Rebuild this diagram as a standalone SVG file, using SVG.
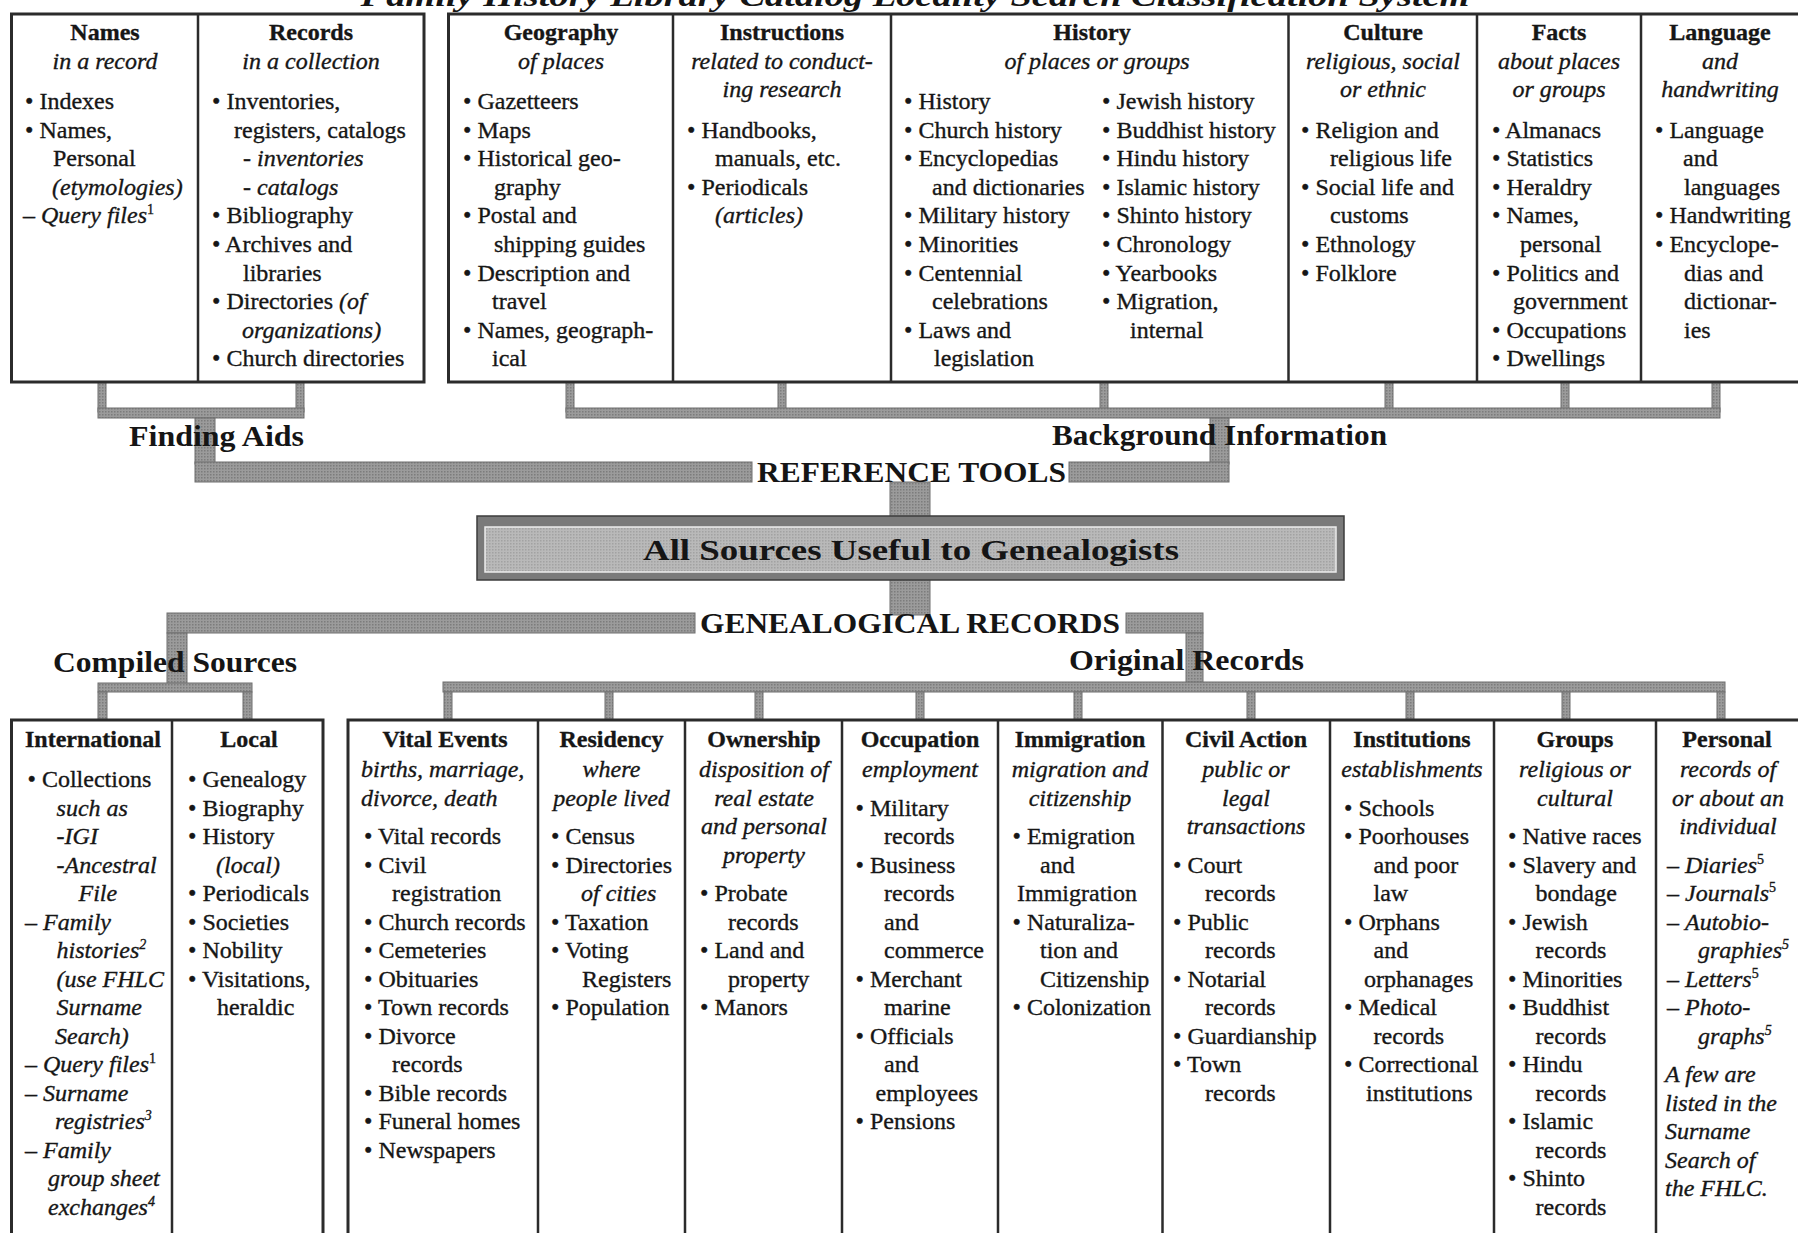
<svg xmlns="http://www.w3.org/2000/svg" width="1798" height="1233" viewBox="0 0 1798 1233">
<style>
.t{font-family:"Liberation Serif","Times New Roman",serif;font-size:24px;fill:#161616;stroke:#161616;stroke-width:0.35}
.h{font-weight:bold;text-anchor:middle}
.i{font-style:italic}
.c{text-anchor:middle}
.L{font-family:"Liberation Serif","Times New Roman",serif;font-weight:bold;font-size:30px;fill:#151515}
.sup{font-size:14px}
.frame{fill:#fff;stroke:#2b2b2b;stroke-width:3}
.div{stroke:#2b2b2b;stroke-width:2.5}
.bar{fill:url(#ht);stroke:#6e6e6e;stroke-width:1}
</style>
<defs>
<pattern id="ht" width="3" height="3" patternUnits="userSpaceOnUse"><rect width="3" height="3" fill="#9b9b9b"/><rect width="1.5" height="1.5" fill="#7c7c7c"/></pattern>
<pattern id="ht2" width="3" height="3" patternUnits="userSpaceOnUse"><rect width="3" height="3" fill="#b9b9b9"/><rect width="1.5" height="1.5" fill="#a2a2a2"/></pattern>
</defs>
<rect width="1798" height="1233" fill="#fff"/>

<g id="title"><text class="L" x="915" y="5.5" text-anchor="middle" font-style="italic" font-size="34" textLength="1109" lengthAdjust="spacingAndGlyphs">Family History Library Catalog Locality Search Classification System</text></g>

<g id="connectors">
<rect class="bar" x="98" y="382" width="8" height="30"/>
<rect class="bar" x="296" y="382" width="8" height="30"/>
<rect class="bar" x="98" y="408" width="206" height="10"/>
<rect class="bar" x="195" y="418" width="20" height="46"/>
<rect class="bar" x="566" y="382" width="8" height="30"/>
<rect class="bar" x="778" y="382" width="8" height="30"/>
<rect class="bar" x="1100" y="382" width="8" height="30"/>
<rect class="bar" x="1385" y="382" width="8" height="30"/>
<rect class="bar" x="1561" y="382" width="8" height="30"/>
<rect class="bar" x="1712" y="382" width="8" height="30"/>
<rect class="bar" x="566" y="408" width="1154" height="10"/>
<rect class="bar" x="1210" y="418" width="19" height="46"/>
<rect class="bar" x="195" y="462" width="557" height="20"/>
<rect class="bar" x="1069" y="462" width="160" height="20"/>
<rect class="bar" x="890" y="482" width="40" height="36"/>
<rect class="bar" x="890" y="579" width="40" height="36"/>
<rect class="bar" x="167" y="613" width="528" height="20"/>
<rect class="bar" x="1126" y="613" width="77" height="20"/>
<rect class="bar" x="167" y="633" width="20" height="52"/>
<rect class="bar" x="1186" y="633" width="17" height="51"/>
<rect class="bar" x="98" y="683" width="154" height="9"/>
<rect class="bar" x="98" y="692" width="9" height="28"/>
<rect class="bar" x="243" y="692" width="9" height="28"/>
<rect class="bar" x="443" y="682" width="1282" height="10"/>
<rect class="bar" x="444" y="692" width="8" height="28"/>
<rect class="bar" x="605" y="692" width="8" height="28"/>
<rect class="bar" x="755" y="692" width="8" height="28"/>
<rect class="bar" x="916" y="692" width="8" height="28"/>
<rect class="bar" x="1074" y="692" width="8" height="28"/>
<rect class="bar" x="1247" y="692" width="8" height="28"/>
<rect class="bar" x="1406" y="692" width="8" height="28"/>
<rect class="bar" x="1562" y="692" width="8" height="28"/>
<rect class="bar" x="1717" y="692" width="8" height="28"/>
</g>

<g id="labels">
<text class="L" x="129" y="446" textLength="175" lengthAdjust="spacingAndGlyphs">Finding Aids</text>
<text class="L" x="1052" y="445" textLength="335" lengthAdjust="spacingAndGlyphs">Background Information</text>
<text class="L" x="757" y="482" font-size="29" textLength="309" lengthAdjust="spacingAndGlyphs">REFERENCE TOOLS</text>
<text class="L" x="700" y="633" font-size="29" textLength="420" lengthAdjust="spacingAndGlyphs">GENEALOGICAL RECORDS</text>
<text class="L" x="53" y="672" textLength="244" lengthAdjust="spacingAndGlyphs">Compiled Sources</text>
<text class="L" x="1069" y="670" textLength="235" lengthAdjust="spacingAndGlyphs">Original Records</text>
</g>

<g id="all-sources">
<rect x="477" y="516" width="867" height="64" fill="#7a7a7a" stroke="#3c3c3c" stroke-width="1.5"/>
<rect x="485" y="527" width="851" height="45" fill="url(#ht2)" stroke="#ececec" stroke-width="1.5"/>
<text class="L" x="643" y="560" font-size="35" textLength="536" lengthAdjust="spacingAndGlyphs">All Sources Useful to Genealogists</text>
</g>

<g id="finding-aids-box">
<rect class="frame" x="11.5" y="14" width="412.5" height="368"/>
<line class="div" x1="198" y1="14" x2="198" y2="382"/>
</g>
<g id="names" class="t">
<text class="h" x="105" y="40">Names</text>
<text class="i c" x="105" y="69">in a record</text>
<text x="25" y="109">• Indexes</text>
<text x="25" y="137.6">• Names,</text>
<text x="53" y="166.2">Personal</text>
<text class="i" x="52" y="194.8">(etymologies)</text>
<text x="23" y="223.4">– <tspan font-style="italic">Query files</tspan><tspan class="sup" dy="-9">1</tspan></text>
</g>
<g id="records" class="t">
<text class="h" x="311" y="40">Records</text>
<text class="i c" x="311" y="69">in a collection</text>
<text x="212" y="109">• Inventories,</text>
<text x="234" y="137.6">registers, catalogs</text>
<text class="i" x="243" y="166.2">- inventories</text>
<text class="i" x="243" y="194.8">- catalogs</text>
<text x="212" y="223.4">• Bibliography</text>
<text x="212" y="252">• Archives and</text>
<text x="243" y="280.6">libraries</text>
<text x="212" y="309.2">• Directories <tspan font-style="italic">(of</tspan></text>
<text class="i" x="242" y="337.8">organizations)</text>
<text x="212" y="366.4">• Church directories</text>
</g>

<g id="background-box">
<rect class="frame" x="448.5" y="14" width="1360" height="368"/>
<line class="div" x1="673" y1="14" x2="673" y2="382"/>
<line class="div" x1="891" y1="14" x2="891" y2="382"/>
<line class="div" x1="1288.5" y1="14" x2="1288.5" y2="382"/>
<line class="div" x1="1477" y1="14" x2="1477" y2="382"/>
<line class="div" x1="1641" y1="14" x2="1641" y2="382"/>
</g>
<g id="geography" class="t">
<text class="h" x="561" y="40">Geography</text>
<text class="i c" x="561" y="69">of places</text>
<text x="463" y="109">• Gazetteers</text>
<text x="463" y="137.6">• Maps</text>
<text x="463" y="166.2">• Historical geo-</text>
<text x="494" y="194.8">graphy</text>
<text x="463" y="223.4">• Postal and</text>
<text x="494" y="252">shipping guides</text>
<text x="463" y="280.6">• Description and</text>
<text x="492" y="309.2">travel</text>
<text x="463" y="337.8">• Names, geograph-</text>
<text x="492" y="366.4">ical</text>
</g>
<g id="instructions" class="t">
<text class="h" x="782" y="40">Instructions</text>
<text class="i c" x="782" y="69">related to conduct-</text>
<text class="i c" x="782" y="97">ing research</text>
<text x="687" y="137.6">• Handbooks,</text>
<text x="715" y="166.2">manuals, etc.</text>
<text x="687" y="194.8">• Periodicals</text>
<text class="i" x="715" y="223.4">(articles)</text>
</g>
<g id="history" class="t">
<text class="h" x="1092" y="40">History</text>
<text class="i c" x="1097" y="69">of places or groups</text>
<text x="904" y="109">• History</text>
<text x="904" y="137.6">• Church history</text>
<text x="904" y="166.2">• Encyclopedias</text>
<text x="932" y="194.8">and dictionaries</text>
<text x="904" y="223.4">• Military history</text>
<text x="904" y="252">• Minorities</text>
<text x="904" y="280.6">• Centennial</text>
<text x="932" y="309.2">celebrations</text>
<text x="904" y="337.8">• Laws and</text>
<text x="934" y="366.4">legislation</text>
<text x="1102" y="109">• Jewish history</text>
<text x="1102" y="137.6">• Buddhist history</text>
<text x="1102" y="166.2">• Hindu history</text>
<text x="1102" y="194.8">• Islamic history</text>
<text x="1102" y="223.4">• Shinto history</text>
<text x="1102" y="252">• Chronology</text>
<text x="1102" y="280.6">• Yearbooks</text>
<text x="1102" y="309.2">• Migration,</text>
<text x="1130" y="337.8">internal</text>
</g>
<g id="culture" class="t">
<text class="h" x="1383" y="40">Culture</text>
<text class="i c" x="1383" y="69">religious, social</text>
<text class="i c" x="1383" y="97">or ethnic</text>
<text x="1301" y="137.6">• Religion and</text>
<text x="1330" y="166.2">religious life</text>
<text x="1301" y="194.8">• Social life and</text>
<text x="1330" y="223.4">customs</text>
<text x="1301" y="252">• Ethnology</text>
<text x="1301" y="280.6">• Folklore</text>
</g>
<g id="facts" class="t">
<text class="h" x="1559" y="40">Facts</text>
<text class="i c" x="1559" y="69">about places</text>
<text class="i c" x="1559" y="97">or groups</text>
<text x="1492" y="137.6">• Almanacs</text>
<text x="1492" y="166.2">• Statistics</text>
<text x="1492" y="194.8">• Heraldry</text>
<text x="1492" y="223.4">• Names,</text>
<text x="1520" y="252">personal</text>
<text x="1492" y="280.6">• Politics and</text>
<text x="1513" y="309.2">government</text>
<text x="1492" y="337.8">• Occupations</text>
<text x="1492" y="366.4">• Dwellings</text>
</g>
<g id="language" class="t">
<text class="h" x="1720" y="40">Language</text>
<text class="i c" x="1720" y="69">and</text>
<text class="i c" x="1720" y="97">handwriting</text>
<text x="1655" y="137.6">• Language</text>
<text x="1683" y="166.2">and</text>
<text x="1684" y="194.8">languages</text>
<text x="1655" y="223.4">• Handwriting</text>
<text x="1655" y="252">• Encyclope-</text>
<text x="1684" y="280.6">dias and</text>
<text x="1684" y="309.2">dictionar-</text>
<text x="1684" y="337.8">ies</text>
</g>

<g id="compiled-box">
<rect class="frame" x="11.5" y="720" width="311.5" height="540"/>
<line class="div" x1="172" y1="720" x2="172" y2="1260"/>
</g>
<g id="international" class="t">
<text class="h" x="93" y="747">International</text>
<text x="27.5" y="787">• Collections</text>
<text class="i" x="56.6" y="815.5">such as</text>
<text class="i" x="56.6" y="844">-IGI</text>
<text class="i" x="56.6" y="872.5">-Ancestral</text>
<text class="i" x="78.5" y="901">File</text>
<text x="25" y="929.5">– <tspan font-style="italic">Family</tspan></text>
<text class="i" x="56.6" y="958">histories<tspan class="sup" dy="-9">2</tspan></text>
<text class="i" x="56.6" y="986.5">(use FHLC</text>
<text class="i" x="56.6" y="1015">Surname</text>
<text class="i" x="55" y="1043.5">Search)</text>
<text x="25" y="1072">– <tspan font-style="italic">Query files</tspan><tspan class="sup" dy="-9">1</tspan></text>
<text x="25" y="1100.5">– <tspan font-style="italic">Surname</tspan></text>
<text class="i" x="55" y="1129">registries<tspan class="sup" dy="-9">3</tspan></text>
<text x="25" y="1157.5">– <tspan font-style="italic">Family</tspan></text>
<text class="i" x="48" y="1186">group sheet</text>
<text class="i" x="48" y="1214.5">exchanges<tspan class="sup" dy="-9">4</tspan></text>
</g>
<g id="local" class="t">
<text class="h" x="249" y="747">Local</text>
<text x="188" y="787">• Genealogy</text>
<text x="188" y="815.5">• Biography</text>
<text x="188" y="844">• History</text>
<text class="i" x="216" y="872.5">(local)</text>
<text x="188" y="901">• Periodicals</text>
<text x="188" y="929.5">• Societies</text>
<text x="188" y="958">• Nobility</text>
<text x="188" y="986.5">• Visitations,</text>
<text x="217" y="1015">heraldic</text>
</g>

<g id="original-box">
<rect class="frame" x="348" y="720" width="1460" height="540"/>
<line class="div" x1="538" y1="720" x2="538" y2="1260"/>
<line class="div" x1="685" y1="720" x2="685" y2="1260"/>
<line class="div" x1="842" y1="720" x2="842" y2="1260"/>
<line class="div" x1="998" y1="720" x2="998" y2="1260"/>
<line class="div" x1="1162.5" y1="720" x2="1162.5" y2="1260"/>
<line class="div" x1="1330" y1="720" x2="1330" y2="1260"/>
<line class="div" x1="1494" y1="720" x2="1494" y2="1260"/>
<line class="div" x1="1656" y1="720" x2="1656" y2="1260"/>
</g>
<g id="vital-events" class="t">
<text class="h" x="445" y="747">Vital Events</text>
<text class="i" x="361" y="777">births, marriage,</text>
<text class="i" x="361" y="805.5">divorce, death</text>
<text x="364" y="844">• Vital records</text>
<text x="364" y="872.5">• Civil</text>
<text x="392" y="901">registration</text>
<text x="364" y="929.5">• Church records</text>
<text x="364" y="958">• Cemeteries</text>
<text x="364" y="986.5">• Obituaries</text>
<text x="364" y="1015">• Town records</text>
<text x="364" y="1043.5">• Divorce</text>
<text x="392" y="1072">records</text>
<text x="364" y="1100.5">• Bible records</text>
<text x="364" y="1129">• Funeral homes</text>
<text x="364" y="1157.5">• Newspapers</text>
</g>
<g id="residency" class="t">
<text class="h" x="611.5" y="747">Residency</text>
<text class="i c" x="611.5" y="777">where</text>
<text class="i c" x="611.5" y="805.5">people lived</text>
<text x="551" y="844">• Census</text>
<text x="551" y="872.5">• Directories</text>
<text class="i" x="581" y="901">of cities</text>
<text x="551" y="929.5">• Taxation</text>
<text x="551" y="958">• Voting</text>
<text x="582" y="986.5">Registers</text>
<text x="551" y="1015">• Population</text>
</g>
<g id="ownership" class="t">
<text class="h" x="764" y="747">Ownership</text>
<text class="i c" x="764" y="777">disposition of</text>
<text class="i c" x="764" y="805.5">real estate</text>
<text class="i c" x="764" y="834">and personal</text>
<text class="i c" x="764" y="862.5">property</text>
<text x="700" y="901">• Probate</text>
<text x="728" y="929.5">records</text>
<text x="700" y="958">• Land and</text>
<text x="728" y="986.5">property</text>
<text x="700" y="1015">• Manors</text>
</g>
<g id="occupation" class="t">
<text class="h" x="920" y="747">Occupation</text>
<text class="i c" x="920" y="777">employment</text>
<text x="855.6" y="815.5">• Military</text>
<text x="884" y="844">records</text>
<text x="855.6" y="872.5">• Business</text>
<text x="884" y="901">records</text>
<text x="884" y="929.5">and</text>
<text x="884" y="958">commerce</text>
<text x="855.6" y="986.5">• Merchant</text>
<text x="884" y="1015">marine</text>
<text x="855.6" y="1043.5">• Officials</text>
<text x="884" y="1072">and</text>
<text x="875.5" y="1100.5">employees</text>
<text x="855.6" y="1129">• Pensions</text>
</g>
<g id="immigration" class="t">
<text class="h" x="1080" y="747">Immigration</text>
<text class="i c" x="1080" y="777">migration and</text>
<text class="i c" x="1080" y="805.5">citizenship</text>
<text x="1012.5" y="844">• Emigration</text>
<text x="1040" y="872.5">and</text>
<text x="1017" y="901">Immigration</text>
<text x="1012.5" y="929.5">• Naturaliza-</text>
<text x="1040" y="958">tion and</text>
<text x="1040" y="986.5">Citizenship</text>
<text x="1012.5" y="1015">• Colonization</text>
</g>
<g id="civil-action" class="t">
<text class="h" x="1246" y="747">Civil Action</text>
<text class="i c" x="1246" y="777">public or</text>
<text class="i c" x="1246" y="805.5">legal</text>
<text class="i c" x="1246" y="834">transactions</text>
<text x="1173" y="872.5">• Court</text>
<text x="1205" y="901">records</text>
<text x="1173" y="929.5">• Public</text>
<text x="1205" y="958">records</text>
<text x="1173" y="986.5">• Notarial</text>
<text x="1205" y="1015">records</text>
<text x="1173" y="1043.5">• Guardianship</text>
<text x="1173" y="1072">• Town</text>
<text x="1205" y="1100.5">records</text>
</g>
<g id="institutions" class="t">
<text class="h" x="1412" y="747">Institutions</text>
<text class="i c" x="1412" y="777">establishments</text>
<text x="1344" y="815.5">• Schools</text>
<text x="1344" y="844">• Poorhouses</text>
<text x="1373.5" y="872.5">and poor</text>
<text x="1373.5" y="901">law</text>
<text x="1344" y="929.5">• Orphans</text>
<text x="1373.5" y="958">and</text>
<text x="1364" y="986.5">orphanages</text>
<text x="1344" y="1015">• Medical</text>
<text x="1373.5" y="1043.5">records</text>
<text x="1344" y="1072">• Correctional</text>
<text x="1366" y="1100.5">institutions</text>
</g>
<g id="groups" class="t">
<text class="h" x="1575" y="747">Groups</text>
<text class="i c" x="1575" y="777">religious or</text>
<text class="i c" x="1575" y="805.5">cultural</text>
<text x="1508" y="844">• Native races</text>
<text x="1508" y="872.5">• Slavery and</text>
<text x="1535.6" y="901">bondage</text>
<text x="1508" y="929.5">• Jewish</text>
<text x="1535.6" y="958">records</text>
<text x="1508" y="986.5">• Minorities</text>
<text x="1508" y="1015">• Buddhist</text>
<text x="1535.6" y="1043.5">records</text>
<text x="1508" y="1072">• Hindu</text>
<text x="1535.6" y="1100.5">records</text>
<text x="1508" y="1129">• Islamic</text>
<text x="1535.6" y="1157.5">records</text>
<text x="1508" y="1186">• Shinto</text>
<text x="1535.6" y="1214.5">records</text>
</g>
<g id="personal" class="t">
<text class="h" x="1727" y="747">Personal</text>
<text class="i c" x="1728" y="777">records of</text>
<text class="i c" x="1728" y="805.5">or about an</text>
<text class="i c" x="1728" y="834">individual</text>
<text x="1667" y="872.5">– <tspan font-style="italic">Diaries</tspan><tspan class="sup" dy="-9">5</tspan></text>
<text x="1667" y="901">– <tspan font-style="italic">Journals</tspan><tspan class="sup" dy="-9">5</tspan></text>
<text x="1667" y="929.5">– <tspan font-style="italic">Autobio-</tspan></text>
<text class="i" x="1698" y="958">graphies<tspan class="sup" dy="-9">5</tspan></text>
<text x="1667" y="986.5">– <tspan font-style="italic">Letters</tspan><tspan class="sup" dy="-9">5</tspan></text>
<text x="1667" y="1015">– <tspan font-style="italic">Photo-</tspan></text>
<text class="i" x="1698" y="1043.5">graphs<tspan class="sup" dy="-9">5</tspan></text>
<text class="i" x="1665" y="1082">A few are</text>
<text class="i" x="1665" y="1110.5">listed in the</text>
<text class="i" x="1665" y="1139">Surname</text>
<text class="i" x="1665" y="1167.5">Search of</text>
<text class="i" x="1665" y="1196">the FHLC.</text>
</g>
</svg>
